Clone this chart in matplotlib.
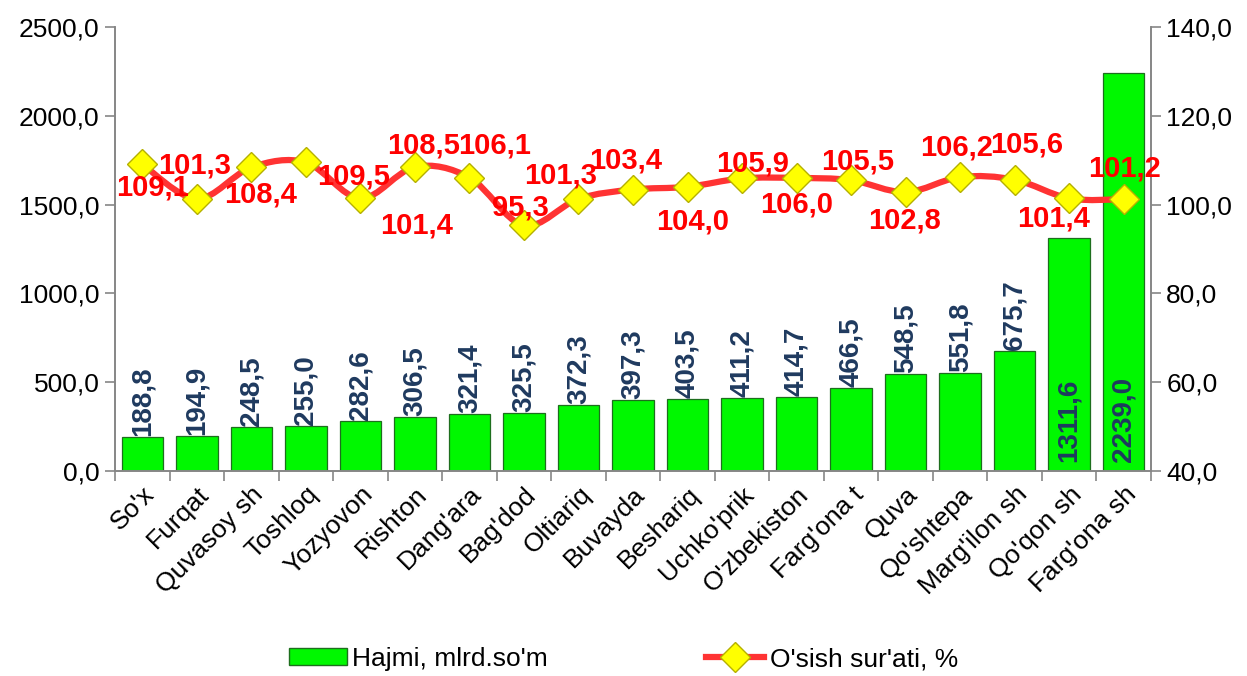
import matplotlib
matplotlib.use("Agg")
import matplotlib.pyplot as plt
from matplotlib.path import Path
from matplotlib.patches import PathPatch, Patch
from matplotlib.lines import Line2D
from matplotlib.ticker import FuncFormatter, MultipleLocator, FixedLocator
import numpy as np

categories = ["So'x", "Furqat", "Quvasoy sh", "Toshloq", "Yozyovon", "Rishton",
              "Dang'ara", "Bag'dod", "Oltiariq", "Buvayda", "Beshariq", "Uchko'prik",
              "O'zbekiston", "Farg'ona t", "Quva", "Qo'shtepa", "Marg'ilon sh",
              "Qo'qon sh", "Farg'ona sh"]
volume = [188.8, 194.9, 248.5, 255.0, 282.6, 306.5, 321.4, 325.5, 372.3, 397.3,
          403.5, 411.2, 414.7, 466.5, 548.5, 551.8, 675.7, 1311.6, 2239.0]
growth = [109.1, 101.3, 108.4, 109.5, 101.4, 108.5, 106.1, 95.3, 101.3, 103.4,
          104.0, 105.9, 106.0, 105.5, 102.8, 106.2, 105.6, 101.4, 101.2]
bar_name = "Hajmi, mlrd.so'm"
line_name = "O'sish sur'ati, %"

# label offsets for growth labels (pixels: dx, dy down-positive)
growth_offsets = [(10, 23), (-2, -33), (9, 27), (48, 14), (56, 27), (9, -21),
                  (25, -32), (-4, -18), (-18, -23), (-7, -29), (5, 35), (11, -15),
                  (0, 27), (7, -19), (-1, 28), (-4, -30), (12, -35), (-16, 20), (1, -31)]
inside_labels = [False] * 17 + [True, True]

plt.rcParams['font.family'] = ['Liberation Sans', 'DejaVu Sans']

W, H, DPI = 1247, 676, 100
fig = plt.figure(figsize=(W / DPI, H / DPI), dpi=DPI)
ax = fig.add_axes([115 / W, 1 - 471 / H, (1151 - 115) / W, (471 - 27) / H])
ax2 = ax.twinx()

x = np.arange(len(categories))
axis_col = '#868686'
fs = 19
px2pt = 72 / DPI

ax.bar(x, volume, width=0.76, color='#00F800', edgecolor='#1E6E1E', linewidth=0.9, zorder=2)
for xi, v, inside in zip(x, volume, inside_labels):
    if inside:
        ax.annotate(f"{v:.1f}".replace('.', ','), (xi, 0), xytext=(0, 9 * px2pt),
                    textcoords='offset points', rotation=90, ha='center', va='bottom',
                    fontsize=fs + 1, fontweight='bold', color='#1F3A5F')
    else:
        ax.annotate(f"{v:.1f}".replace('.', ','), (xi, v), xytext=(0, 1 * px2pt),
                    textcoords='offset points', rotation=90, ha='center', va='bottom',
                    fontsize=fs + 1, fontweight='bold', color='#1F3A5F')

ax.set_xlim(-0.5, len(categories) - 0.5)
ax.set_ylim(0, 2500)
ax.yaxis.set_major_locator(MultipleLocator(500))
fmt = FuncFormatter(lambda v, p: f"{v:.1f}".replace('.', ','))
ax.yaxis.set_major_formatter(fmt)
ax.set_xticks(x)
ax.set_xticklabels(categories, rotation=45, ha='right', rotation_mode='anchor', fontsize=fs)
ax.xaxis.set_minor_locator(FixedLocator(np.arange(-0.5, len(categories), 1.0)))
ax.tick_params(axis='x', which='major', length=0, pad=8)
ax.tick_params(axis='x', which='minor', length=7, color=axis_col, width=1.2)
ax.tick_params(axis='y', length=7, color=axis_col, width=1.2, labelsize=fs, pad=4)

ax2.set_ylim(40, 140)
ax2.yaxis.set_major_locator(MultipleLocator(20))
ax2.yaxis.set_major_formatter(fmt)
ax2.tick_params(axis='y', length=7, color=axis_col, width=1.2, labelsize=fs, pad=4)

for a in (ax, ax2):
    a.spines['top'].set_visible(False)
    for s in ('left', 'right', 'bottom'):
        a.spines[s].set_color(axis_col)
        a.spines[s].set_linewidth(1.2)

# smoothed line via bezier segments
pts = np.column_stack([x, growth]).astype(float)
verts = [tuple(pts[0])]
codes = [Path.MOVETO]
n = len(pts)
for i in range(n - 1):
    p0 = pts[i - 1] if i > 0 else pts[i]
    p1 = pts[i]
    p2 = pts[i + 1]
    p3 = pts[i + 2] if i + 2 < n else pts[i + 1]
    c1 = p1 + (p2 - p0) / 6
    c2 = p2 - (p3 - p1) / 6
    verts += [tuple(c1), tuple(c2), tuple(p2)]
    codes += [Path.CURVE4] * 3
ax2.add_patch(PathPatch(Path(verts, codes), facecolor='none', edgecolor='#FF3333',
                        linewidth=4.5, zorder=3))
ax2.plot(x, growth, linestyle='none', marker='D', markersize=15,
         markerfacecolor='#FFFF00', markeredgecolor='#B5B000', markeredgewidth=1, zorder=4)
for xi, g, (dx, dy) in zip(x, growth, growth_offsets):
    ax2.annotate(f"{g:.1f}".replace('.', ','), (xi, g), xytext=(dx * px2pt, -dy * px2pt),
                 textcoords='offset points', ha='center', va='center',
                 fontsize=fs + 2, fontweight='bold', color='#FF0000', zorder=5)

handles = [Patch(facecolor='#00F800', edgecolor='#1E6E1E'),
           Line2D([0], [0], color='#FF3333', lw=4.5, marker='D', markersize=15,
                  markerfacecolor='#FFFF00', markeredgecolor='#B5B000')]
fig.legend(handles, [bar_name, line_name], loc='center', bbox_to_anchor=(0.5, 1 - 659 / H),
           ncol=2, frameon=False, fontsize=fs, handlelength=2.2, handletextpad=0.2,
           columnspacing=6.0, handleheight=0.6, borderpad=0.1)

fig.savefig('out.png', dpi=DPI)
